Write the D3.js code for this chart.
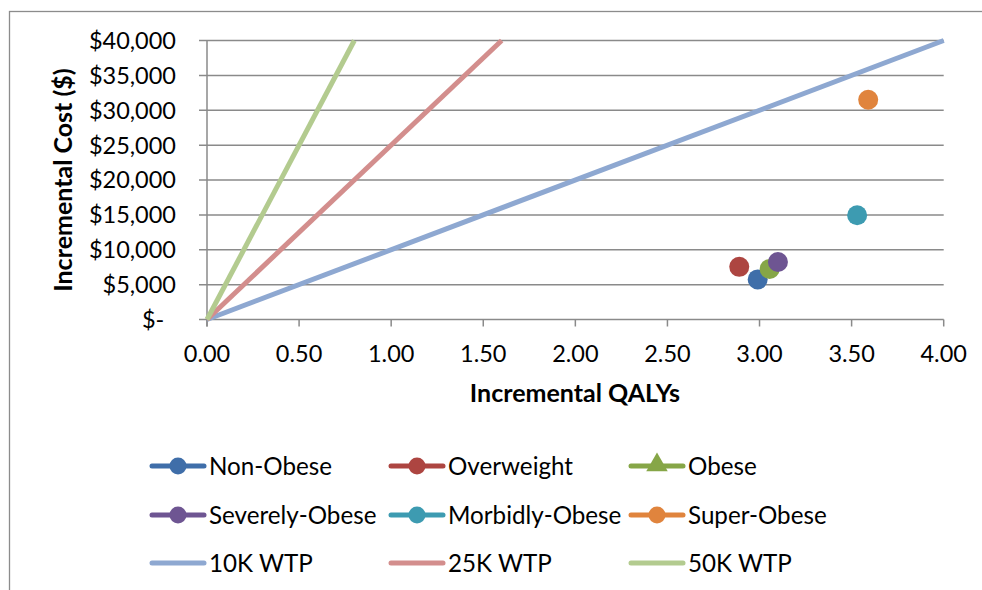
<!DOCTYPE html>
<html><head><meta charset="utf-8">
<script src="https://cdn.jsdelivr.net/npm/d3@7"></script>
<style>
html,body{margin:0;padding:0;background:#fff;}
svg{display:block;font-family:Lato,"Open Sans",sans-serif;}
</style></head>
<body>
<svg id="chart" width="982" height="590"></svg>
<script>
// ---- data ----
const groups = ["Non-Obese","Overweight","Obese","Severely-Obese","Morbidly-Obese","Super-Obese"];
const groupQALYs = [2.99, 2.89, 3.055, 3.10, 3.53, 3.59];
const groupCosts = [5750, 7550, 7250, 8250, 14950, 31500];
const groupColors = ["#3F6EA9","#AD4541","#86A647","#6E5592","#3D9BB1","#E0843D"];
const groupMarkers = ["circle","circle","triangle","circle","circle","circle"];
const wtpNames = ["10K WTP","25K WTP","50K WTP"];
const wtp10 = [[0,0],[4.0,40000]];
const wtp25 = [[0,0],[1.6,40000]];
const wtp50 = [[0,0],[0.8,40000]];
const wtpColors = ["#8EA8D1","#D38E8D","#B3CB8F"];
const xTicks = [0,0.5,1,1.5,2,2.5,3,3.5,4];
const yTicks = [0,5000,10000,15000,20000,25000,30000,35000,40000];

const svg = d3.select("#chart");
const x = d3.scaleLinear().domain([0,4]).range([207,943.7]);
const y = d3.scaleLinear().domain([0,40000]).range([319.5,40.5]);
const grid = "#8A8A8A";

// outer border
svg.append("rect").attr("x",9.5).attr("y",11.5).attr("width",1000).attr("height",600)
  .attr("fill","none").attr("stroke","#8C8C8C").attr("stroke-width",1.3);

// gridlines (extend left as tick marks)
svg.append("g").selectAll("line").data(yTicks).join("line")
  .attr("x1",199).attr("x2",x(4)).attr("y1",d=>y(d)).attr("y2",d=>y(d))
  .attr("stroke",grid).attr("stroke-width",1.5);

// y axis line
svg.append("line").attr("x1",x(0)).attr("x2",x(0)).attr("y1",y(40000)).attr("y2",y(0)+7)
  .attr("stroke",grid).attr("stroke-width",1.5);
// x tick marks
svg.append("g").selectAll("line").data(xTicks).join("line")
  .attr("x1",d=>x(d)).attr("x2",d=>x(d)).attr("y1",y(0)).attr("y2",y(0)+7)
  .attr("stroke",grid).attr("stroke-width",1.5);

// y tick labels
const yFmt = d => d===0 ? "$-\u2002" : "$" + d3.format(",")(d);
svg.append("g").selectAll("text").data(yTicks).join("text")
  .attr("x",176).attr("y",d=>y(d)).attr("dy","0.36em")
  .attr("text-anchor","end").attr("font-size",23.5).attr("fill","#000")
  .text(yFmt);

// x tick labels
svg.append("g").selectAll("text").data(xTicks).join("text")
  .attr("x",d=>x(d)).attr("y",362).attr("text-anchor","middle")
  .attr("font-size",23.5).attr("fill","#000").text(d=>d3.format(".2f")(d));

// axis titles
svg.append("text").attr("x",575).attr("y",402).attr("text-anchor","middle")
  .attr("font-size",25).attr("font-weight","bold").text("Incremental QALYs");
svg.append("text").attr("transform","translate(72,180) rotate(-90)").attr("text-anchor","middle")
  .attr("font-size",25).attr("font-weight","bold").text("Incremental Cost ($)");

// WTP lines
const line = d3.line().x(d=>x(d[0])).y(d=>y(d[1]));
[wtp10,wtp25,wtp50].forEach((s,i)=>{
  svg.append("path").attr("d",line(s)).attr("fill","none")
    .attr("stroke",wtpColors[i]).attr("stroke-width",5);
});

// group points
svg.append("g").selectAll("circle").data(groups).join("circle")
  .attr("cx",(d,i)=>x(groupQALYs[i])).attr("cy",(d,i)=>y(groupCosts[i]))
  .attr("r",10).attr("fill",(d,i)=>groupColors[i]);

// legend
const legItems = groups.map((g,i)=>({name:g,color:groupColors[i],marker:groupMarkers[i]}))
  .concat(wtpNames.map((n,i)=>({name:n,color:wtpColors[i],marker:null})));
const colX = [150,389,629];
const rowY = [466,515,563];
const leg = svg.append("g");
legItems.forEach((it,i)=>{
  const cx = colX[i%3], cy = rowY[Math.floor(i/3)];
  const g = leg.append("g").attr("transform",`translate(${cx},${cy})`);
  g.append("line").attr("x1",2).attr("x2",54).attr("y1",0).attr("y2",0)
    .attr("stroke",it.color).attr("stroke-width",5).attr("stroke-linecap","round");
  if(it.marker==="circle"){
    g.append("circle").attr("cx",28).attr("cy",0).attr("r",8.5).attr("fill",it.color);
  } else if(it.marker==="triangle"){
    g.append("path").attr("d",d3.symbol(d3.symbolTriangle,200)()).attr("transform","translate(28,-1)")
      .attr("fill",it.color);
  }
  g.append("text").attr("x",59).attr("y",0).attr("dy","0.36em")
    .attr("font-size",24.2).attr("fill","#000").text(it.name);
});
</script>
</body></html>
